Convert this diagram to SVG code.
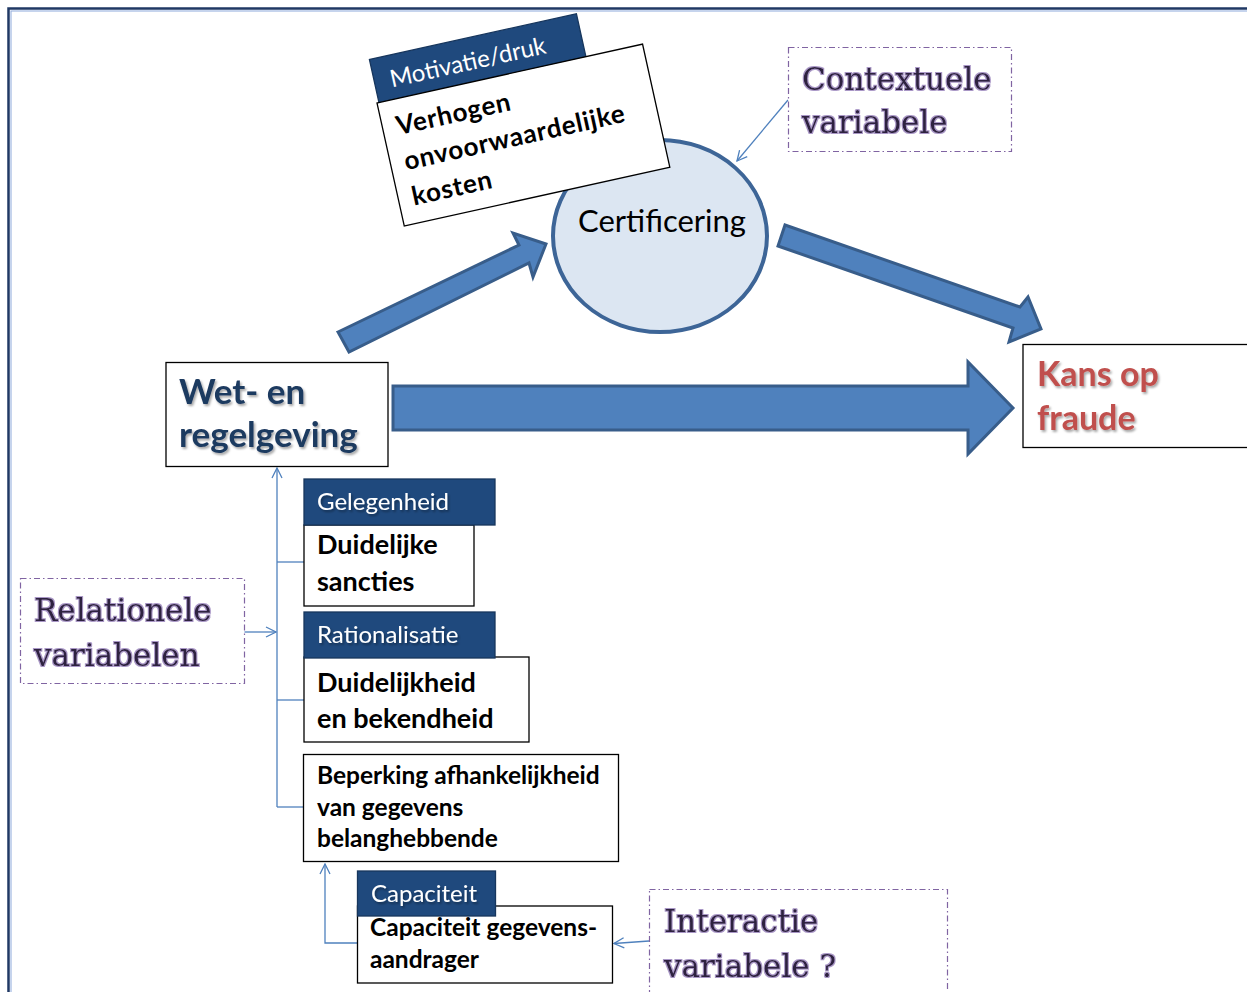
<svg xmlns="http://www.w3.org/2000/svg" width="1247" height="992" viewBox="0 0 1247 992">
  <defs>
    <filter id="shadow" x="-10%" y="-20%" width="130%" height="150%">
      <feDropShadow dx="1.5" dy="2" stdDeviation="1.3" flood-color="#000" flood-opacity="0.35"/>
    </filter>
    <filter id="glow" x="-5%" y="-10%" width="110%" height="130%">
      <feMorphology in="SourceAlpha" operator="dilate" radius="0.8" result="d"/>
      <feGaussianBlur in="d" stdDeviation="0.6" result="b"/>
      <feFlood flood-color="#a08cc0" flood-opacity="0.9"/>
      <feComposite in2="b" operator="in" result="g"/>
      <feMerge><feMergeNode in="g"/><feMergeNode in="SourceGraphic"/></feMerge>
    </filter>
    <marker id="open" viewBox="0 0 12 12" refX="11" refY="6" markerWidth="12" markerHeight="12" markerUnits="userSpaceOnUse" orient="auto">
      <path d="M1,1 L11,6 L1,11" fill="none" stroke="#4f81bd" stroke-width="1.3"/>
    </marker>
  </defs>
  <style>
    .frame { fill: none; stroke: #1f3864; stroke-width: 2.5; }
    .frame2 { fill: none; stroke: #8eaadb; stroke-width: 1; }
    .box { fill: #fff; stroke: #000; stroke-width: 1.3; }
    .hdr { fill: #1f497d; stroke: #17365d; stroke-width: 1.3; }
    .hdrtxt { font-family: Lato, "Open Sans", sans-serif; fill: #fff; font-size: 24px; }
    .body { font-family: Lato, "Open Sans", sans-serif; font-weight: bold; fill: #000; font-size: 27px; }
    .body2 { font-family: Lato, "Open Sans", sans-serif; font-weight: bold; fill: #000; font-size: 24.5px; }
    .dash { fill: #fff; stroke: #8064a2; stroke-width: 1.2; stroke-dasharray: 6 3 1.5 3; }
    .serif { font-family: "DejaVu Serif", "Liberation Serif", serif; fill: #2e2140; font-size: 31px; }
    .block { fill: #4f81bd; stroke: #385d8a; stroke-width: 3; stroke-linejoin: miter; }
    .link { fill: none; stroke: #4f81bd; stroke-width: 1.3; }
  </style>

  <!-- page frame -->
  <rect class="frame" x="8.5" y="8.5" width="1300" height="1100"/>
  <rect class="frame2" x="11" y="11" width="1300" height="1100"/>

  <!-- thin connectors -->
  <g id="connectors">
    <path class="link" d="M277,807 L277,468" marker-end="url(#open)"/>
    <path class="link" d="M277,562 L304,562"/>
    <path class="link" d="M277,700 L304,700"/>
    <path class="link" d="M277,807 L304,807"/>
    <path class="link" d="M244,632 L276,632" marker-end="url(#open)"/>
    <path class="link" d="M357,943 L325,943 L325,864" marker-end="url(#open)"/>
    <path class="link" d="M649,941 L614,943.5" marker-end="url(#open)"/>
    <path class="link" d="M788,100 L737,161" marker-end="url(#open)"/>
  </g>

  <!-- block arrows -->
  <g id="block-arrows">
    <polygon class="block" points="393,386 968,386 968,362 1013,408 968,454 968,430 393,430"/>
    <polygon class="block" points="338,332 519,245 513,233 546,244 533,277 529,263 349,352"/>
    <polygon class="block" points="785,225 1020,307 1028,297 1041,329 1009,342 1013,328 778,246"/>
  </g>

  <!-- Certificering -->
  <g id="certificering">
    <ellipse cx="660" cy="236" rx="107" ry="96" fill="#dce6f2" stroke="#3d6597" stroke-width="4"/>
    <text x="662" y="232" text-anchor="middle" font-family="Lato, 'Open Sans', sans-serif" font-size="31" fill="#000">Certificering</text>
  </g>

  <!-- Motivatie/druk (rotated card) -->
  <g id="motivatie" transform="translate(377,103) rotate(-12.5)">
    <rect class="hdr" x="2" y="-44" width="212" height="46"/>
    <text class="hdrtxt" x="18" y="-12" font-size="24">Motivatie/druk</text>
    <rect class="box" x="0" y="0" width="272" height="126"/>
    <g font-family="Lato, 'Open Sans', sans-serif" font-weight="bold" font-size="26" letter-spacing="0.7" fill="#000">
      <text x="14" y="36">Verhogen</text>
      <text x="14" y="72">onvoorwaardelijke</text>
      <text x="14" y="108">kosten</text>
    </g>
  </g>

  <!-- Contextuele variabele -->
  <g id="contextuele">
    <rect class="dash" x="788.5" y="47.5" width="223" height="104"/>
    <text class="serif" x="802" y="90" filter="url(#glow)">Contextuele</text>
    <text class="serif" x="802" y="133" filter="url(#glow)">variabele</text>
  </g>

  <!-- Wet- en regelgeving -->
  <g id="wet-en-regelgeving">
    <rect class="box" x="166" y="362.5" width="222" height="104"/>
    <g font-family="Lato, 'Open Sans', sans-serif" font-weight="bold" font-size="35" fill="#1f3a60" filter="url(#shadow)">
      <text x="179" y="404">Wet- en</text>
      <text x="179" y="447">regelgeving</text>
    </g>
  </g>

  <!-- Kans op fraude -->
  <g id="kans-op-fraude">
    <rect class="box" x="1023" y="344.5" width="240" height="103"/>
    <g font-family="Lato, 'Open Sans', sans-serif" font-weight="bold" font-size="34" fill="#c0504d" filter="url(#shadow)">
      <text x="1037" y="386">Kans op</text>
      <text x="1037" y="430">fraude</text>
    </g>
  </g>

  <!-- Relationele variabelen -->
  <g id="relationele">
    <rect class="dash" x="20.5" y="578.5" width="224" height="105"/>
    <text class="serif" x="34" y="621" filter="url(#glow)">Relationele</text>
    <text class="serif" x="34" y="666" filter="url(#glow)">variabelen</text>
  </g>

  <!-- Gelegenheid -->
  <g id="gelegenheid">
    <rect class="box" x="304" y="525" width="170" height="81"/>
    <rect class="hdr" x="304" y="479" width="191" height="46"/>
    <text class="hdrtxt" x="317" y="510" filter="url(#shadow)">Gelegenheid</text>
    <text class="body" x="317" y="554">Duidelijke</text>
    <text class="body" x="317" y="591">sancties</text>
  </g>

  <!-- Rationalisatie -->
  <g id="rationalisatie">
    <rect class="box" x="304" y="657" width="225" height="85"/>
    <rect class="hdr" x="304" y="612" width="191" height="46"/>
    <text class="hdrtxt" x="317" y="643" filter="url(#shadow)">Rationalisatie</text>
    <text class="body" x="317" y="692">Duidelijkheid</text>
    <text class="body" x="317" y="728">en bekendheid</text>
  </g>

  <!-- Beperking afhankelijkheid -->
  <g id="beperking">
    <rect class="box" x="303.5" y="754.5" width="315" height="107"/>
    <text class="body2" x="317" y="784">Beperking afhankelijkheid</text>
    <text class="body2" x="317" y="816">van gegevens</text>
    <text class="body2" x="317" y="847">belanghebbende</text>
  </g>

  <!-- Capaciteit -->
  <g id="capaciteit">
    <rect class="box" x="357.5" y="906" width="255" height="77"/>
    <rect class="hdr" x="357.5" y="871" width="138" height="45"/>
    <text class="hdrtxt" x="371" y="902" filter="url(#shadow)">Capaciteit</text>
    <text class="body2" x="370" y="936">Capaciteit gegevens-</text>
    <text class="body2" x="370" y="968">aandrager</text>
  </g>

  <!-- Interactie variabele ? -->
  <g id="interactie">
    <rect class="dash" x="649.5" y="889.5" width="298" height="140"/>
    <text class="serif" x="664" y="932" filter="url(#glow)">Interactie</text>
    <text class="serif" x="664" y="977" filter="url(#glow)">variabele ?</text>
  </g>
</svg>
